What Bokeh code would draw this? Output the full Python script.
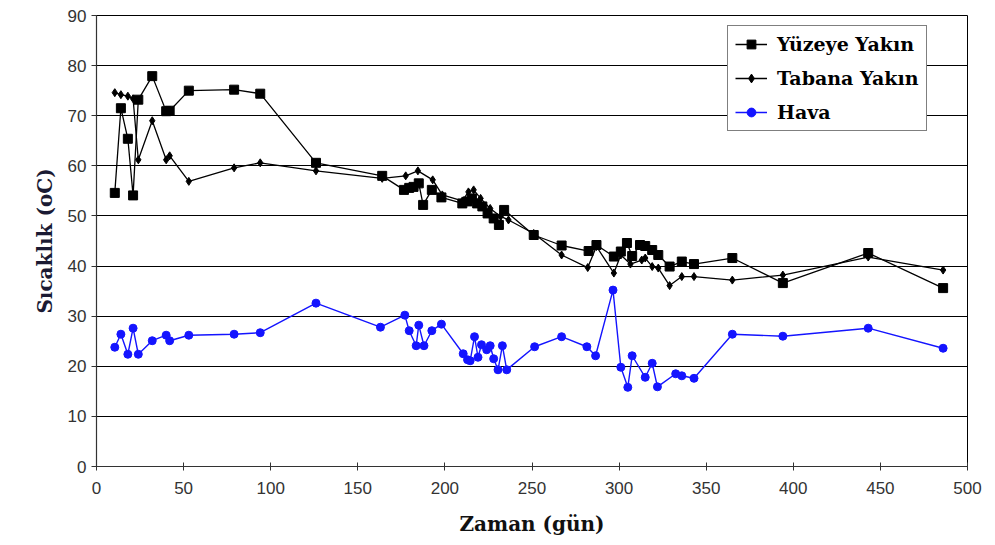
from bokeh.plotting import figure
from bokeh.models import Range1d, FixedTicker, Legend, LegendItem
from bokeh.embed import file_html
from bokeh.resources import INLINE

# ---- data ----
yuzey_x = [10.5, 14, 18, 21, 24, 32, 40, 42, 53, 79, 94, 126, 164, 176.5, 179.5,
           182, 185, 187.5, 192.5, 198, 210, 213, 215.5, 218.5, 221.5,
           224.5, 228, 231, 234, 251, 267, 282.5, 287, 297, 301,
           304.5, 307.5, 312, 315, 319, 322.5, 329, 336, 343, 365, 394, 443, 486]
yuzey_y = [54.6, 71.5, 65.4, 54.1, 73.2, 77.9, 70.9, 71.0, 75.0, 75.2, 74.4, 60.6, 58.0, 55.2, 55.6,
           55.8, 56.5, 52.2, 55.2, 53.7, 52.5, 52.9, 53.5, 52.5, 51.9,
           50.5, 49.5, 48.2, 51.2, 46.2, 44.1, 43.0, 44.2, 41.9, 42.9,
           44.6, 42.0, 44.2, 44.0, 43.2, 42.2, 39.9, 40.9, 40.4, 41.6, 36.6, 42.6, 35.6]

tabana_x = [10.5, 14, 18, 21, 24, 32, 40, 42, 53, 79, 94, 126, 164, 177.5, 184.5,
            193, 198.5, 210, 213.5, 216.5, 220.5, 226, 232, 236.5, 251,
            267, 282, 287, 297, 301, 306.5, 313, 315, 319, 322.5,
            329, 336, 343, 365, 394, 443, 486]
tabana_y = [74.6, 74.2, 73.9, 73.4, 61.2, 69.0, 61.2, 62.0, 56.9, 59.6, 60.6, 59.0, 57.5, 58.0, 59.0,
            57.2, 54.2, 53.0, 54.8, 55.2, 53.5, 51.5, 49.9, 49.2, 46.5,
            42.2, 39.7, 43.9, 38.6, 42.2, 40.4, 41.2, 41.6, 39.9, 39.6,
            36.1, 37.9, 37.9, 37.2, 38.2, 41.8, 39.2]

hava_x = [10.5, 14, 18, 21, 24, 32, 40, 42, 53, 79, 94, 126, 163, 177, 179.5,
          183.5, 185, 188, 192.5, 198, 210.5, 213, 214.5, 217, 219,
          221, 224, 226, 228, 230.5, 233, 235.5, 251.5, 267, 281.5,
          286.5, 296.5, 301, 305, 307.5, 315, 319, 322, 332.5, 336,
          343, 365, 394, 443, 486]
hava_y = [23.8, 26.4, 22.4, 27.6, 22.4, 25.1, 26.2, 25.1, 26.2, 26.4, 26.7, 32.6, 27.8, 30.2, 27.1,
          24.1, 28.2, 24.1, 27.1, 28.4, 22.5, 21.3, 21.1, 25.9, 21.8,
          24.3, 23.3, 24.1, 21.5, 19.3, 24.1, 19.3, 23.9, 25.9, 23.9,
          22.1, 35.2, 19.8, 15.8, 22.1, 17.8, 20.6, 15.9, 18.5, 18.1,
          17.6, 26.4, 26.0, 27.6, 23.6]

x_ticks = [0, 50, 100, 150, 200, 250, 300, 350, 400, 450, 500]
y_ticks = [0, 10, 20, 30, 40, 50, 60, 70, 80, 90]

series_names = ["Yüzeye Yakın", "Tabana Yakın", "Hava"]
x_title = "Zaman (gün)"
y_title = "Sıcaklık (oC)"

# ---- figure ----
p = figure(width=987, height=541, output_backend="svg", toolbar_location=None,
           x_range=Range1d(0, 500), y_range=Range1d(0, 90),
           min_border_left=96, min_border_right=20, min_border_top=15, min_border_bottom=75)
p.background_fill_color = "white"
p.border_fill_color = "white"
p.outline_line_color = "black"
p.outline_line_width = 1

p.xgrid.grid_line_color = None
p.ygrid.grid_line_color = "black"
p.ygrid.grid_line_width = 1.2
p.ygrid.ticker = FixedTicker(ticks=y_ticks)

p.xaxis.ticker = FixedTicker(ticks=x_ticks)
p.yaxis.ticker = FixedTicker(ticks=y_ticks)
for ax in (p.xaxis[0], p.yaxis[0]):
    ax.axis_line_color = "#333333"
    ax.axis_line_width = 1.2
    ax.major_tick_line_color = "#333333"
    ax.minor_tick_line_color = None
    ax.major_label_text_font = "Liberation Sans"
    ax.major_label_text_font_size = "17px"
    ax.major_label_text_color = "#333333"
    ax.axis_label_text_font = "DejaVu Serif"
    ax.axis_label_text_font_style = "bold"
    ax.axis_label_text_font_size = "20px"
    ax.axis_label_text_color = "#111111"
p.xaxis.major_tick_in = 4
p.xaxis.major_tick_out = 4
p.yaxis.major_tick_in = 0
p.yaxis.major_tick_out = 5
p.xaxis.major_label_standoff = 11
p.yaxis.major_label_standoff = 5
p.xaxis.axis_label = x_title
p.yaxis.axis_label = y_title
p.xaxis.axis_label_standoff = 15
p.yaxis.axis_label_standoff = 8
p.yaxis.axis_label_text_color = "#1a1a33"

# ---- series ----
l1 = p.line(yuzey_x, yuzey_y, line_color="black", line_width=1.3)
s1 = p.scatter(yuzey_x, yuzey_y, marker="square", size=9, fill_color="black", line_color="black")
l2 = p.line(tabana_x, tabana_y, line_color="black", line_width=1.3)
s2 = p.scatter(tabana_x, tabana_y, marker="diamond", size=8, fill_color="black", line_color="black")
l3 = p.line(hava_x, hava_y, line_color="#1414ff", line_width=1.4)
s3 = p.scatter(hava_x, hava_y, marker="circle", size=8, fill_color="#1414ff", line_color="#1414ff")

legend = Legend(items=[
    LegendItem(label=series_names[0], renderers=[l1, s1]),
    LegendItem(label=series_names[1], renderers=[l2, s2]),
    LegendItem(label=series_names[2], renderers=[l3, s3]),
], location=(631, 335))
legend.label_text_font = "DejaVu Serif"
legend.label_text_font_style = "bold"
legend.label_text_font_size = "19px"
legend.label_text_color = "black"
legend.border_line_color = "black"
legend.border_line_width = 1.5
legend.background_fill_color = "white"
legend.background_fill_alpha = 1
legend.glyph_width = 32
legend.glyph_height = 22
legend.label_height = 22
legend.spacing = 12
legend.padding = 7
legend.margin = 0
legend.label_standoff = 10
p.add_layout(legend, "center")

open("out.html", "w").write(file_html(p, INLINE))
